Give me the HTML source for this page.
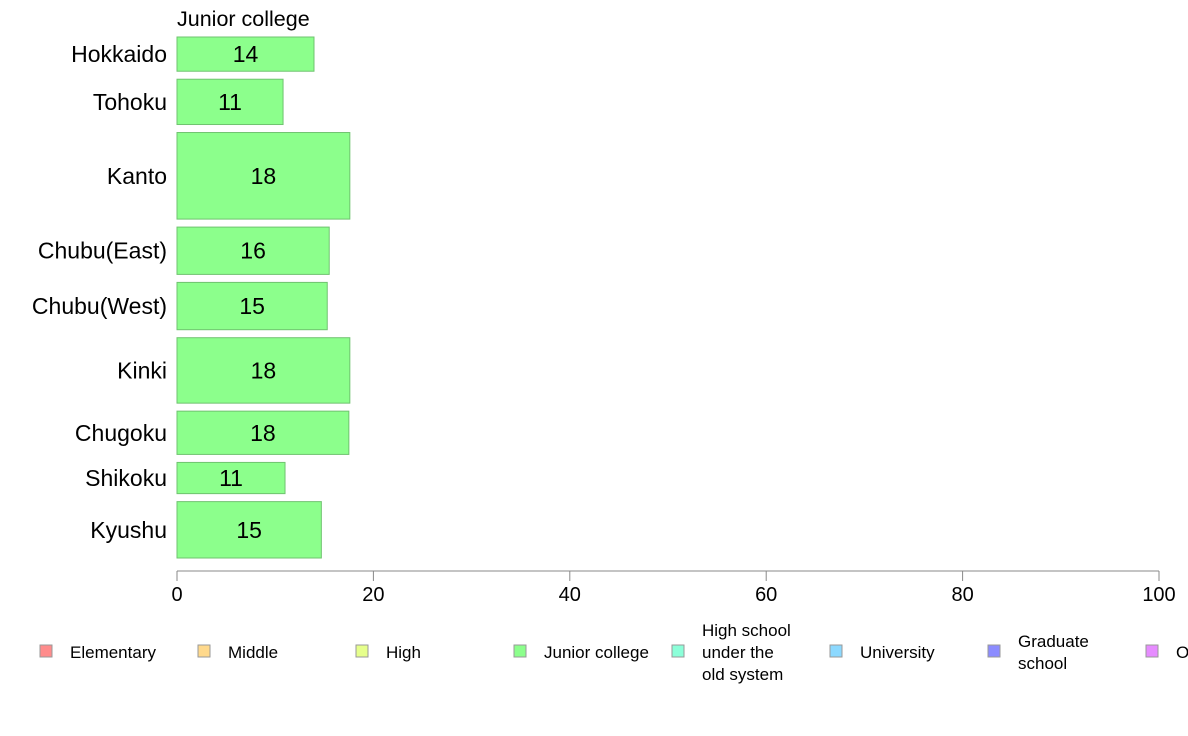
<!DOCTYPE html>
<html><head><meta charset="utf-8"><style>
body{margin:0;background:#fff;}
svg{display:block;font-family:"Liberation Sans",Arial,sans-serif;}
</style></head><body>
<svg id="chart" width="1188" height="736">
<text x="177" y="26" font-size="21.5" fill="#000">Junior college</text>
<g id="bars"></g>
<g id="axis"></g>
<g id="legend"></g>
</svg>
<script>
const regions=["Hokkaido","Tohoku","Kanto","Chubu(East)","Chubu(West)","Kinki","Chugoku","Shikoku","Kyushu"];
const values=[13.95,10.8,17.6,15.5,15.3,17.6,17.5,11.0,14.7];
const weights=[34,45,86,47,47,65,43,31,56];
const ticks=[0,20,40,60,80,100];
const legendLabels=[["Elementary"],["Middle"],["High"],["Junior college"],["High school","under the","old system"],["University"],["Graduate","school"],["O"]];
const legendColors=["#ff8c8c","#ffd98c","#e6ff8c","#8cff8c","#8cffd9","#8cd9ff","#8c8cff","#e68cff"];
const NS="http://www.w3.org/2000/svg";
const x0=177,x1=1159,yTop=37,yBottom=558,gap=8;
const xs=v=>x0+(v/100)*(x1-x0);
const bars=document.getElementById('bars');
const totalW=weights.reduce((a,b)=>a+b,0);
const avail=(yBottom-yTop)-gap*(regions.length-1);
let yPos=yTop;
function mk(tag,attrs,parent){const e=document.createElementNS(NS,tag);for(const k in attrs)e.setAttribute(k,attrs[k]);parent.appendChild(e);return e;}
regions.forEach((r,i)=>{
  const h=weights[i]/totalW*avail;
  const rect=mk('rect',{x:x0,y:yPos,width:xs(values[i])-x0,height:h,fill:'#8cff8c',stroke:'#6fc36f','stroke-width':1},bars);
  
  
  const t=mk('text',{x:(x0+xs(values[i]))/2,y:yPos+h/2+8,'font-size':23,'text-anchor':'middle',fill:'#000'},bars);
  t.textContent=Math.round(values[i]);
  
  
  const l=mk('text',{x:167,y:yPos+h/2+8,'font-size':23,'text-anchor':'end',fill:'#000'},bars);
  l.textContent=r;
  
  
  yPos+=h+gap;
});
const ax=document.getElementById('axis');
mk('line',{x1:x0,x2:x1,y1:571,y2:571,stroke:'#888'},ax);
ticks.forEach(v=>{
  mk('line',{x1:xs(v),x2:xs(v),y1:571,y2:581,stroke:'#888'},ax);
  const t=mk('text',{x:xs(v),y:601,'font-size':20,'text-anchor':'middle',fill:'#000'},ax);
  t.textContent=v;
  
  
});
const lg=document.getElementById('legend');
legendLabels.forEach((lines,i)=>{
  const lx=40+i*158;
  const g=mk('g',{},lg);
  
  
  mk('rect',{x:lx,y:645,width:12,height:12,fill:legendColors[i],stroke:'#999'},g);
  const n=lines.length;
  lines.forEach((s,j)=>{
    const t=mk('text',{x:lx+30,y:658+(j-(n-1)/2)*22,'font-size':17,fill:'#000'},g);
    t.textContent=s;
  });
});
</script>
</body></html>
